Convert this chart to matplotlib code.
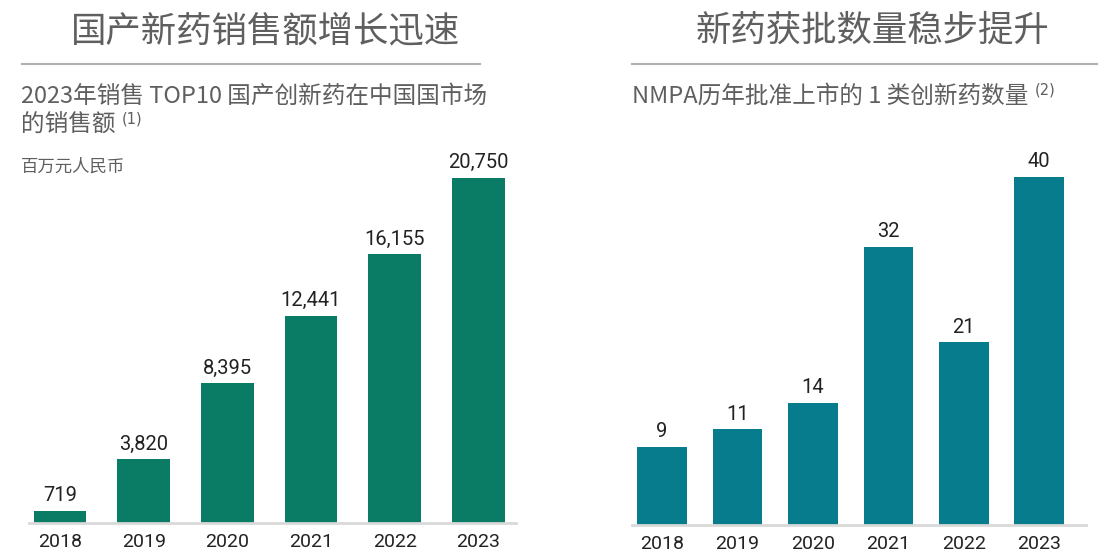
import matplotlib
matplotlib.use("Agg")
import matplotlib.pyplot as plt

plt.rcParams['font.family'] = ['Noto Sans CJK SC', 'DejaVu Sans']

years = ["2018", "2019", "2020", "2021", "2022", "2023"]
sales = [719, 3820, 8395, 12441, 16155, 20750]
sales_labels = ["719", "3,820", "8,395", "12,441", "16,155", "20,750"]
approvals = [9, 11, 14, 32, 21, 40]

left_title = "国产新药销售额增长迅速"
right_title = "新药获批数量稳步提升"
left_sub1 = "2023年销售 TOP10 国产创新药在中国国市场"
left_sub2 = "的销售额"
left_note = "(1)"
left_unit = "百万元人民币"
right_sub = "NMPA历年批准上市的 1 类创新药数量"
right_note = "(2)"

W, H = 1106, 552
fig = plt.figure(figsize=(W / 100, H / 100), dpi=100)
fig.patch.set_facecolor("white")

def px_axes(x0, y0, x1, y1):
    return fig.add_axes([x0 / W, 1 - y1 / H, (x1 - x0) / W, (y1 - y0) / H])

GREEN = "#0a7c66"
TEAL = "#077c8c"
TXT = "#5f5f5f"
DARK = "#222222"

def draw_panel(ax, values, labels, color, width, xlim):
    xs = list(range(len(values)))
    ax.bar(xs, values, width=width, color=color, zorder=2)
    ax.set_xlim(*xlim)
    ax.set_ylim(0, max(values))
    for s in ["top", "right", "left"]:
        ax.spines[s].set_visible(False)
    ax.spines["bottom"].set_color("#d9d9d9")
    ax.spines["bottom"].set_linewidth(2)
    ax.set_yticks([])
    ax.set_xticks(xs)
    ax.set_xticklabels(years, fontsize=14, color=DARK, family=["Roboto", "DejaVu Sans"])
    ax.tick_params(axis="x", length=0, pad=7)
    ax.patch.set_alpha(0)
    for x, v, lab in zip(xs, values, labels):
        ax.annotate(lab, (x, v), xytext=(0, 11), textcoords="offset points",
                    ha="center", va="center", fontsize=14.5, color=DARK,
                    family=["Roboto", "DejaVu Sans"], annotation_clip=False)

axL = px_axes(29, 178, 516, 523)
draw_panel(axL, sales, sales_labels, GREEN, 0.63, (-0.37, 5.45))

axR = px_axes(632, 177, 1086, 525)
draw_panel(axR, approvals, [str(v) for v in approvals], TEAL, 0.66, (-0.40, 5.62))

def fx(px):
    return px / W

def fy(py):
    return 1 - py / H

fig.text(fx(265), fy(31), left_title, ha="center", va="center", fontsize=25.5, color=TXT)
fig.text(fx(872), fy(31), right_title, ha="center", va="center", fontsize=25.5, color=TXT)

fig.add_artist(plt.Line2D([fx(22), fx(480)], [fy(64), fy(64)], color="#b0b0b0", lw=1.5))
fig.add_artist(plt.Line2D([fx(632), fx(1097)], [fy(64), fy(64)], color="#b0b0b0", lw=1.5))

fig.text(fx(21), fy(96), left_sub1, ha="left", va="center", fontsize=17, color=TXT)
t2 = fig.text(fx(21), fy(125), left_sub2, ha="left", va="center", fontsize=17, color=TXT)
t3 = fig.text(fx(632), fy(96), right_sub, ha="left", va="center", fontsize=17, color=TXT)
fig.text(fx(21), fy(167), left_unit, ha="left", va="center", fontsize=12.5, color=TXT)

fig.canvas.draw()
r = fig.canvas.get_renderer()
for t, note in [(t2, left_note), (t3, right_note)]:
    bb = t.get_window_extent(renderer=r)
    x_end = bb.x1 / W
    y = t.get_position()[1]
    fig.text(x_end + 6 / W, y + 6 / H, note, ha="left", va="center", fontsize=10.5, color=TXT,
             family=["DejaVu Sans"])

fig.savefig("out.png", dpi=100, facecolor="white")
